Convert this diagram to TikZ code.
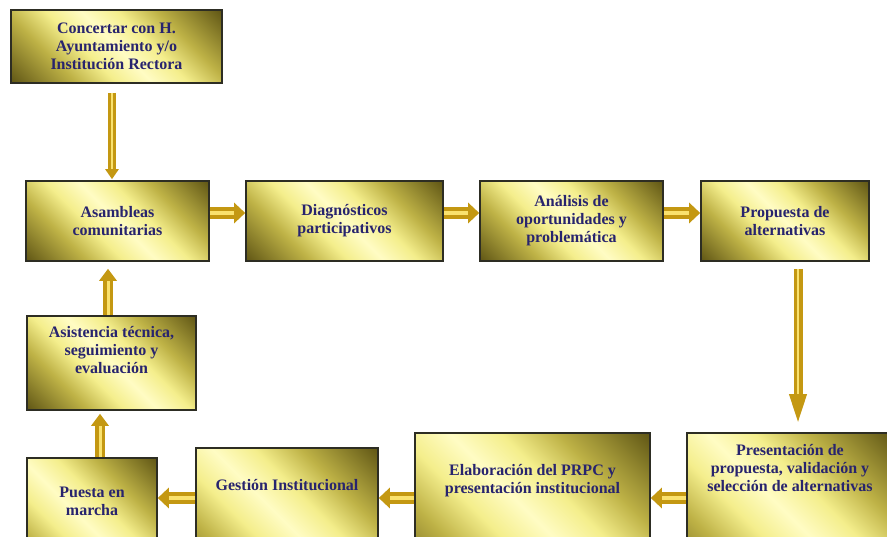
\documentclass[tikz,border=0pt]{standalone}
\usepackage{fontspec}
\setmainfont{Liberation Serif}
\usetikzlibrary{arrows.meta}
\definecolor{olivedark}{RGB}{98,88,22}
\definecolor{olivemid}{RGB}{190,178,70}
\definecolor{ylight}{RGB}{244,238,140}
\definecolor{ypale}{RGB}{255,252,196}
\definecolor{boxline}{RGB}{45,45,35}
\definecolor{navytext}{RGB}{40,36,110}
\definecolor{goldmain}{RGB}{196,152,18}
\definecolor{goldlight}{RGB}{250,226,110}
\pgfdeclarehorizontalshading{boxshade}{100bp}{color(0bp)=(olivedark); color(15bp)=(olivedark); color(31bp)=(olivemid); color(41bp)=(ylight); color(50bp)=(ypale); color(59bp)=(ylight); color(69bp)=(olivemid); color(85bp)=(olivedark); color(100bp)=(olivedark)}
\tikzset{
  pbox/.style={draw=boxline, line width=1.6pt, shading=boxshade, shading angle=45,
    inner sep=0pt, align=center, text=navytext,
    font=\bfseries\fontsize{16}{18}\selectfont},
  lbl/.style={inner sep=0pt, align=center, text=navytext, draw=none,
    minimum width=0pt, minimum height=0pt,
    font=\bfseries\fontsize{16}{18}\selectfont},
  harr/.style={line width=12pt, draw=goldmain, -{Triangle[length=11pt,width=20pt]},
    shorten >=#1, postaction={draw=goldlight, line width=4pt, -, shorten >=#1+11pt}},
  uarr/.style={line width=10pt, draw=goldmain, -{Triangle[length=12pt,width=17pt]},
    shorten >=#1, postaction={draw=goldlight, line width=3pt, -, shorten >=#1+12pt}},
  darr/.style={line width=8pt, draw=goldmain, -{Triangle[length=10pt,width=13pt]},
    shorten >=#1, postaction={draw=goldlight, line width=2.5pt, -, shorten >=#1+10pt}},
  larr/.style={line width=9pt, draw=goldmain, -{Triangle[length=38pt,width=14pt]},
    shorten >=#1, postaction={draw=goldlight, line width=2.5pt, -, shorten >=#1+38pt}},
}
\begin{document}
\begin{tikzpicture}[x=1pt,y=-1pt]
\useasboundingbox (0,0) rectangle (887,537);
\fill[white] (0,0) rectangle (887,537);
\clip (0,0) rectangle (887,537);

% top box
\node[pbox, minimum width=211, minimum height=73] (c0) at (116.5,46.5)
  {Concertar con H.\\Ayuntamiento y/o\\Institución Rectora};

% middle row
\node[pbox, minimum width=183, minimum height=80] (a1) at (117.5,221)
  {Asambleas\\comunitarias};
\node[pbox, minimum width=197, minimum height=80] (a2) at (344.5,221)
  {Diagnósticos\\participativos};
\node[pbox, minimum width=183, minimum height=80] (a3) at (571.5,221)
  {Análisis de\\oportunidades y\\problemática};
\node[pbox, minimum width=168, minimum height=80] (a4) at (785,221)
  {Propuesta de\\alternativas};

% left column
\node[pbox, minimum width=169, minimum height=94,
  label={[lbl, anchor=north, yshift=-11pt]north:{Asistencia técnica,\\seguimiento y\\evaluación}}]
  (b1) at (111.5,363) {};

% bottom row
\node[pbox, minimum width=130, minimum height=142,
  label={[lbl, anchor=north, yshift=-30pt]north:{Puesta en\\marcha}}]
  (b2) at (92,529) {};
\node[pbox, minimum width=182, minimum height=152,
  label={[lbl, anchor=north, yshift=-32pt]north:{Gestión Institucional}}]
  (b3) at (287,524) {};
\node[pbox, minimum width=235, minimum height=167,
  label={[lbl, anchor=north, yshift=-32pt]north:{Elaboración del PRPC y\\presentación institucional}}]
  (b4) at (532.5,516.5) {};
\node[pbox, minimum width=206, minimum height=167,
  label={[lbl, anchor=north, yshift=-12pt]north:{Presentación de\\propuesta, validación y\\selección de alternativas}}]
  (b5) at (790,516.5) {};

% connectors
\draw[darr=1pt, shorten <=9pt] ([xshift=-4.5pt]c0.south) -- ([xshift=-4.5pt]c0.south |- a1.north);
\draw[harr=0pt] ([yshift=8pt]a1.east) -- ([yshift=8pt]a2.west);
\draw[harr=0pt] ([yshift=8pt]a2.east) -- ([yshift=8pt]a3.west);
\draw[harr=0pt] ([yshift=8pt]a3.east) -- ([yshift=8pt]a4.west);
\draw[larr=0pt, shorten <=7pt] ([xshift=13pt]a4.south) -- ([xshift=13pt]a4.south |- b5.north);
\draw[harr=0pt] ([yshift=18.5pt]b5.west) -- ([yshift=18.5pt]b5.west -| b4.east);
\draw[harr=0pt] ([yshift=18.5pt]b4.west) -- ([yshift=18.5pt]b4.west -| b3.east);
\draw[harr=0pt] ([yshift=26pt]b3.west) -- ([yshift=26pt]b3.west -| b2.east);
\draw[uarr=3pt] ([xshift=8pt]b2.north) -- ([xshift=8pt]b2.north |- b1.south);
\draw[uarr=7pt] ([xshift=-3.5pt]b1.north) -- ([xshift=-3.5pt]b1.north |- a1.south);
\end{tikzpicture}
\end{document}
